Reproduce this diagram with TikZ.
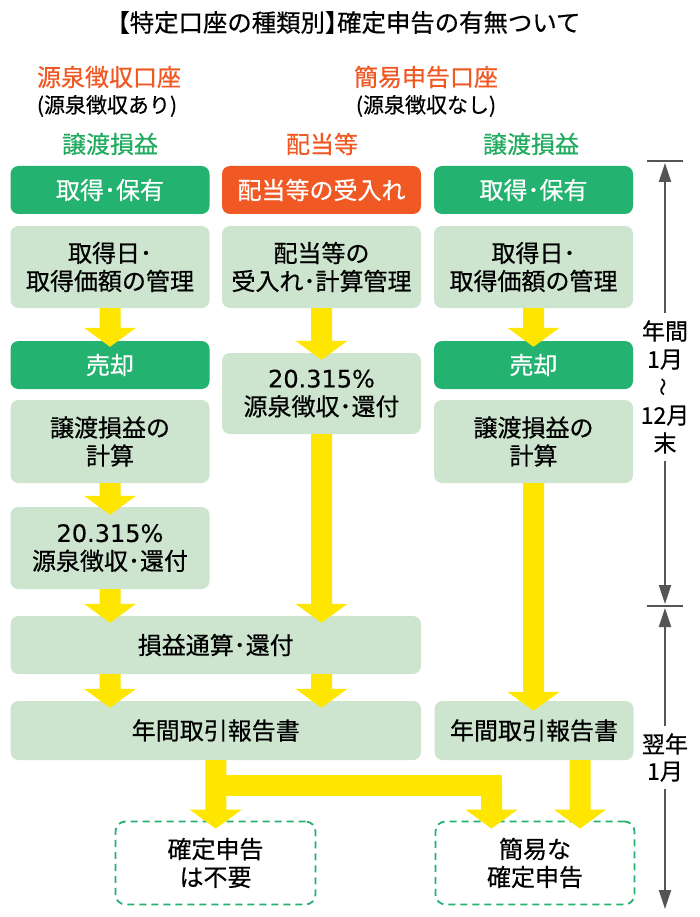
\documentclass[tikz,border=0pt]{standalone}
\usepackage{fontspec}
\usetikzlibrary{calc,arrows.meta}
\newfontfamily\jp[FakeBold=0.5]{Noto Sans CJK JP}
\newfontfamily\jph[FakeBold=0.5,RawFeature=+halt]{Noto Sans CJK JP}
\newfontfamily\dv[FakeBold=0.3]{DejaVu Sans}
\definecolor{dgreen}{RGB}{35,178,112}
\definecolor{orng}{RGB}{240,88,36}
\definecolor{lgreen}{RGB}{205,229,206}
\definecolor{gtext}{RGB}{34,172,96}
\definecolor{ayellow}{RGB}{255,230,0}
\definecolor{tgray}{RGB}{85,85,85}
\newcommand\fsz[2]{\fontsize{#1}{#2}\selectfont}
\newcommand\num[1]{{\dv #1}}
\newcommand\fatarrow[2]{\fill[ayellow] let \p1=(#1), \p2=(#2) in
  (\x1-10.5pt,\y1) -- (\x1+10.5pt,\y1) -- (\x1+10.5pt,\y2+19pt) -- (\x1+26pt,\y2+19pt)
  -- (\x1,\y2) -- (\x1-26pt,\y2+19pt) -- (\x1-10.5pt,\y2+19pt) -- cycle;}
\tikzset{
  base/.style={rounded corners=8pt, align=center, inner sep=0pt, text=black, font=\jp\fsz{24}{28}},
  dbox/.style={base, fill=dgreen, text=white, minimum width=199pt, minimum height=48pt},
  obox/.style={dbox, fill=orng},
  lbox/.style={base, fill=lgreen, minimum width=199pt},
  dashbox/.style={base, draw=dgreen, dash pattern=on 7pt off 5pt, line width=1.8pt, rounded corners=10pt},
  tline/.style={draw=tgray, line width=2pt},
  tarrow/.style={tline, -{Triangle[length=19pt,width=12pt]}},
  hdr/.style={inner sep=0pt, font=\jp\fsz{24}{28}},
}
\begin{document}
\begin{tikzpicture}[x=1pt,y=-1pt]
\fill[white] (0,0) rectangle (700,917);
\useasboundingbox (0,0) rectangle (700,917);

\node[hdr, font=\jph\fsz{24.4}{28}] (title) at (349,22.5) {【特定口座の種類別】確定申告の有無ついて};
\node[hdr, text=orng] (h1) at (109,77) {源泉徴収口座};
\node[hdr, font=\jp\fsz{21}{24}] (h1s) at (107,106) {(源泉徴収あり)};
\node[hdr, text=orng] (h2) at (426,77) {簡易申告口座};
\node[hdr, font=\jp\fsz{21}{24}] (h2s) at (426,106) {(源泉徴収なし)};
\node[hdr, text=gtext] (g1) at (110,144) {譲渡損益};
\node[hdr, text=orng] (g2) at (322,144) {配当等};
\node[hdr, text=gtext] (g3) at (531,144) {譲渡損益};

\node[dbox] (a1) at (110,190) {取得･保有};
\node[obox] (b1) at (321.5,190) {配当等の受入れ};
\node[dbox] (c1) at (533.5,190) {取得･保有};
\node[lbox, minimum height=82pt] (a2) at (110,267) {取得日･\\取得価額の管理};
\node[lbox, minimum height=82pt] (b2) at (321.5,267) {配当等の\\受入れ･計算管理};
\node[lbox, minimum height=82pt] (c2) at (533.5,267) {取得日･\\取得価額の管理};
\node[dbox] (a3) at (110,365) {売却};
\node[dbox] (c3) at (533.5,365) {売却};
\node[lbox, minimum height=83pt] (a4) at (110,441.5) {譲渡損益の\\計算};
\node[lbox, minimum height=83pt] (c4) at (533.5,441.5) {譲渡損益の\\計算};
\node[lbox, minimum height=81pt] (b3) at (321.5,393.5) {\num{20.315\%}\\源泉徴収･還付};
\node[lbox, minimum height=82pt] (a5) at (110,548) {\num{20.315\%}\\源泉徴収･還付};
\node[lbox, minimum width=410.5pt, minimum height=58pt] (s) at (215.75,645) {損益通算･還付};
\node[lbox, minimum width=410.5pt, minimum height=59pt] (yl) at (215.75,730.5) {年間取引報告書};
\node[lbox, minimum height=59pt] (yr) at (534,730.5) {年間取引報告書};
\node[dashbox, minimum width=200pt, minimum height=83pt] (dl) at (215.5,863) {確定申告\\は不要};
\node[dashbox, minimum width=199pt, minimum height=83pt] (dr) at (535,863) {簡易な\\確定申告};

\fatarrow{a2.south}{$(a3.north)+(0,6)$}
\fatarrow{a4.south}{$(a5.north)+(0,8)$}
\fatarrow{a5.south}{$(s.north)+(0,7)$}
\fatarrow{a5.south |- s.south}{$(yl.north)+(0,7)$}
\fatarrow{b2.south}{$(b3.north)+(0,7)$}
\fatarrow{b3.south}{$(s.north)+(0,7)$}
\fatarrow{b3.south |- s.south}{$(yl.north)+(0,7)$}
\fatarrow{c2.south}{$(c3.north)+(0,6)$}
\fatarrow{c4.south}{$(yr.north)+(0,10)$}
\fatarrow{yl.south}{$(dl.north)+(0,8)$}
\coordinate (fk) at (491.5,785);
\fill[ayellow] let \p1=(yl.south), \p2=(fk) in (\x1,\y2+10.5pt) rectangle (\x2+10.5pt,\y2-10.5pt);
\fatarrow{fk}{$(dr.north)+(0,8)$}
\coordinate (yrs) at ($(yr.south)+(46,0)$);
\fatarrow{yrs}{$(dr.north)+(0,8)$}

\node[hdr, font=\jp\fsz{23}{28}, align=center, inner sep=7pt] (L1) at (665,387) {年間\\1月\\\rotatebox{90}{\fsz{18}{18}～}\\12月\\末};
\node[hdr, font=\jp\fsz{23}{27}, align=center, inner sep=7pt] (L2) at (665,757.5) {翌年\\1月};
\coordinate (t1) at (665,161);
\coordinate (t2) at (665,606);
\coordinate (t3) at (665,909);
\coordinate (k1a) at (647,161); \coordinate (k1b) at (683,161);
\coordinate (k2a) at (647,606); \coordinate (k2b) at (683,606);
\draw[tline] (k1a) -- (k1b);
\draw[tline] (k2a) -- (k2b);
\draw[tarrow] (L1.north) -- ($(t1)+(0,2)$);
\draw[tarrow] (L1.south) -- ($(t2)+(0,-2)$);
\draw[tarrow] (L2.north) -- ($(t2)+(0,2)$);
\draw[tarrow] (L2.south) -- (t3);
\end{tikzpicture}
\end{document}
